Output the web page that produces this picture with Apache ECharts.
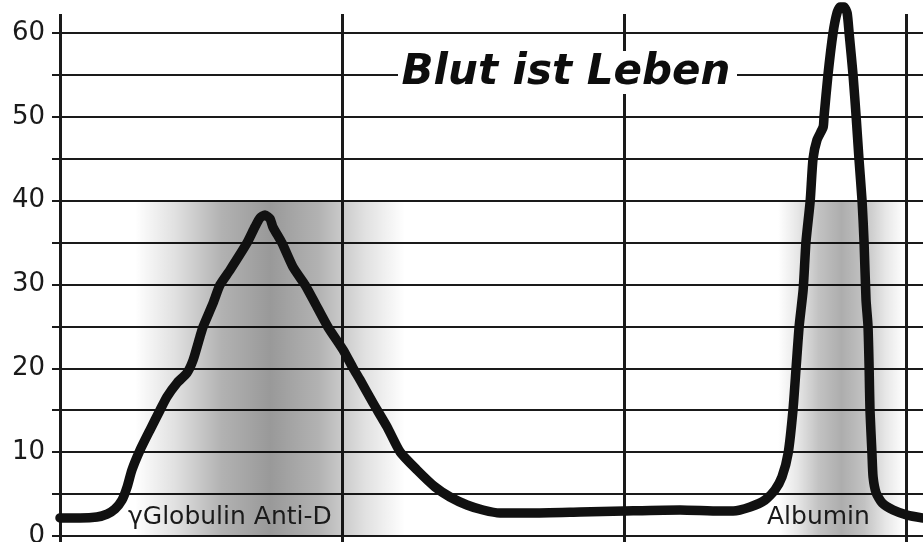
<!DOCTYPE html>
<html>
<head>
<meta charset="utf-8">
<title>Blut ist Leben</title>
<script src="https://cdn.jsdelivr.net/npm/echarts@6/dist/echarts.min.js"></script>
<style>
	html, body { margin: 0; padding: 0; background: #fff; }
	#main { width: 923px; height: 542px; }
</style>
</head>
<body>
<div id="main"></div>
<script>
'use strict';

// x: 每格 10 个单位 (竖线在 0, 10, 20, 30)
var curveX = [0.00, 0.71, 1.31, 1.67, 1.95, 2.20, 2.38, 2.55, 2.84, 3.19, 3.55, 3.79, 4.15, 4.50, 4.72, 4.96, 5.07, 5.43, 5.67, 6.03,
	6.63, 6.91, 7.09, 7.27, 7.45, 7.55, 7.87, 8.26, 8.69, 9.04, 9.50, 10.04, 10.39, 10.64, 11.10, 11.60, 12.06, 12.66, 13.30, 13.83,
	14.43, 15.00, 15.60, 16.67, 18.44, 20.00, 21.99, 23.40, 23.87, 24.47, 25.00, 25.35, 25.60, 25.82, 25.99, 26.10, 26.21, 26.35,
	26.45, 26.60, 26.70, 26.84, 27.06, 27.09, 27.23, 27.41, 27.55, 27.66, 27.80, 27.91, 27.98, 28.12, 28.23, 28.33, 28.44, 28.51,
	28.58, 28.65, 28.69, 28.72, 28.79, 28.83, 28.94, 29.15, 29.54, 30.04, 30.60];
var curveY = [2.15, 2.15, 2.27, 2.62, 3.22, 4.29, 5.84, 7.87, 10.26, 12.64, 15.03, 16.58, 18.25, 19.44, 20.99, 23.73, 24.93, 27.79, 29.94, 31.73,
	34.95, 36.85, 37.93, 38.28, 37.81, 36.85, 34.95, 32.08, 29.94, 27.79, 24.93, 22.18, 20.04, 18.61, 15.86, 13.00, 10.02, 7.87, 5.84, 4.65,
	3.70, 3.10, 2.74, 2.74, 2.86, 2.98, 3.10, 2.98, 2.98, 3.46, 4.29, 5.49, 7.04, 9.90, 15.03, 20.04, 25.05, 29.34,
	35.06, 39.95, 44.96, 47.23, 48.78, 49.97, 54.98, 59.99, 62.38, 63.09, 63.09, 62.38, 59.99, 54.98, 49.97, 44.96, 39.95, 35.06,
	28.15, 25.05, 20.04, 15.03, 9.90, 7.04, 5.13, 3.94, 3.10, 2.50, 2.15];

// 灰色区域 [起, 止], 高度
var globulinBand = [2.66, 12.23];
var albuminBand = [25.46, 29.96];
var bandTop = 40;

var yTicks = [0, 65, 5];
var xRange = [0, 30.6, 10];

var titleText = 'Blut ist Leben';
var labelGlobulin = 'γGlobulin Anti-D';
var labelAlbumin = 'Albumin';

var ink = '#1a1a1a';
var font = 'DejaVu Sans';

function shade(alpha) {
	return {
		type: 'linear', x: 0, y: 0, x2: 1, y2: 0,
		colorStops: [
			{ offset: 0, color: 'rgba(0,0,0,0)' },
			{ offset: 0.15, color: 'rgba(0,0,0,' + (alpha * 0.3) + ')' },
			{ offset: 0.32, color: 'rgba(0,0,0,' + (alpha * 0.75) + ')' },
			{ offset: 0.5, color: 'rgba(0,0,0,' + alpha + ')' },
			{ offset: 0.68, color: 'rgba(0,0,0,' + (alpha * 0.75) + ')' },
			{ offset: 0.85, color: 'rgba(0,0,0,' + (alpha * 0.3) + ')' },
			{ offset: 1, color: 'rgba(0,0,0,0)' }
		]
	};
}

var points = [];
for (var i = 0; i < curveX.length; i++) {
	points.push([curveX[i], curveY[i]]);
}

var myChart = echarts.init(document.getElementById('main'));

myChart.setOption({
	animation: false,
	backgroundColor: '#fff',
	grid: [
		{ left: 60, right: 0, top: -9, bottom: 6, outerBoundsMode: 'none' },
		{ left: 60, right: 0, top: 14, bottom: 0, outerBoundsMode: 'none' }
	],
	xAxis: [{
		type: 'value', gridIndex: 0, min: xRange[0], max: xRange[1], interval: xRange[2], show: false
	}, {
		type: 'value', gridIndex: 1, min: xRange[0], max: xRange[1], interval: xRange[2],
		axisLine: { show: false },
		axisTick: { show: false },
		axisLabel: { show: false },
		splitLine: { show: true, showMaxLine: false, lineStyle: { color: ink, width: 3 } }
	}],
	yAxis: [{
		type: 'value', gridIndex: 0, min: yTicks[0], max: yTicks[1], interval: yTicks[2],
		axisLine: { show: false },
		axisTick: { show: true, length: 8, lineStyle: { color: ink, width: 2 } },
		axisLabel: {
			margin: 15,
			color: ink,
			fontFamily: font,
			fontSize: 26,
			formatter: function (v) {
				return v % 10 === 0 ? String(v) : '';
			}
		},
		splitLine: { show: true, lineStyle: { color: ink, width: 2 } }
	}, {
		type: 'value', gridIndex: 1, min: 0, max: 1, show: false
	}],
	graphic: [{
		type: 'rect', z: 10,
		shape: { x: 398, y: 51, width: 339, height: 43 },
		style: { fill: '#fff' }
	}, {
		type: 'text', z: 11, x: 566, y: 73,
		style: {
			text: titleText, fill: '#0d0d0d',
			font: 'italic bold 42px "DejaVu Sans"',
			align: 'center', verticalAlign: 'middle',
			textAlign: 'center', textVerticalAlign: 'middle'
		}
	}, {
		type: 'text', z: 11, x: 128, y: 517,
		style: {
			text: labelGlobulin, fill: ink,
			font: '25px "DejaVu Sans"',
			align: 'left', verticalAlign: 'middle',
			textAlign: 'left', textVerticalAlign: 'middle'
		}
	}, {
		type: 'text', z: 11, x: 767, y: 517,
		style: {
			text: labelAlbumin, fill: ink,
			font: '25px "DejaVu Sans"',
			align: 'left', verticalAlign: 'middle',
			textAlign: 'left', textVerticalAlign: 'middle'
		}
	}],
	series: [{
		// 灰色背景
		type: 'line', xAxisIndex: 0, yAxisIndex: 0, z: 1,
		data: [],
		markArea: {
			silent: true,
			label: { show: false },
			data: [
				[{ coord: [globulinBand[0], 0], itemStyle: { color: shade(0.4) } }, { coord: [globulinBand[1], bandTop] }],
				[{ coord: [albuminBand[0], 0], itemStyle: { color: shade(0.32) } }, { coord: [albuminBand[1], bandTop] }]
			]
		}
	}, {
		type: 'line', xAxisIndex: 0, yAxisIndex: 0, z: 3,
		data: points,
		showSymbol: false,
		clip: false,
		smooth: 0.2,
		lineStyle: { color: '#111', width: 9.5, cap: 'round', join: 'round' }
	}]
});
</script>
</body>
</html>
